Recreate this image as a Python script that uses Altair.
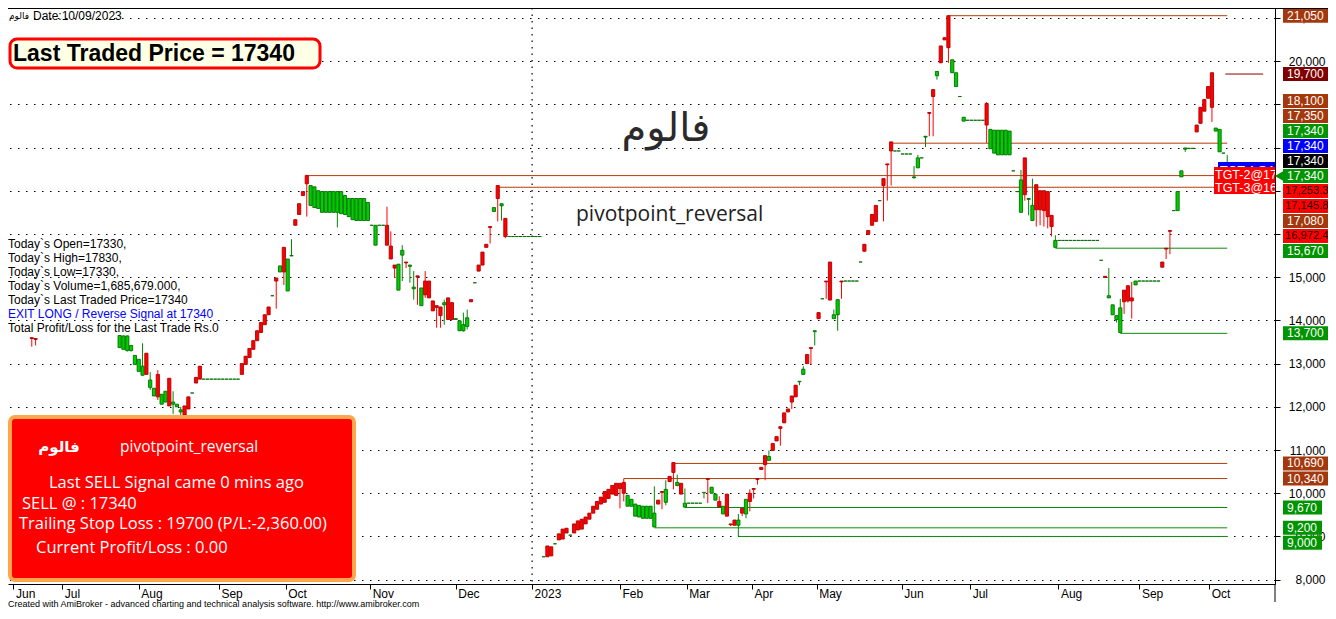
import altair as alt
import pandas as pd
import numpy as np

# ---------------- data ----------------
# candles: (bar slot, open, high, low, close); colour follows close<open -> red
candles_2022 = [
    (7, 13600, 13600, 13390, 13580), (8, 13580, 13580, 13420, 13560),
    (30, 13370, 13650, 13370, 13650), (31, 13330, 13650, 13330, 13640),
    (32, 13300, 13650, 13280, 13640), (33, 13300, 13420, 13280, 13420),
    (34, 12980, 13190, 12980, 13190), (35, 12820, 13100, 12820, 13100),
    (36, 12730, 13470, 12730, 12940), (37, 13240, 13240, 12750, 12750),
    (38, 12450, 12800, 12390, 12620), (39, 12250, 12430, 12250, 12430),
    (40, 12750, 12850, 12160, 12230), (41, 12060, 12290, 12060, 12290),
    (42, 12110, 12360, 12110, 12360), (43, 12660, 12660, 12020, 12020),
    (44, 12060, 12360, 11830, 12110), (45, 12000, 12060, 12000, 12060),
    (46, 11880, 12000, 11810, 11930), (47, 12020, 12020, 11810, 11810),
    (48, 12230, 12230, 11950, 11950), (49, 12320, 12320, 12320, 12320),
    (50, 12680, 12680, 12550, 12550), (51, 12940, 12940, 12640, 12640),
    (52, 12640, 12640, 12640, 12640), (53, 12640, 12640, 12640, 12640),
    (54, 12640, 12640, 12640, 12640), (55, 12640, 12640, 12640, 12640),
    (56, 12640, 12640, 12640, 12640), (57, 12640, 12640, 12640, 12640),
    (58, 12640, 12640, 12640, 12640), (59, 12640, 12640, 12640, 12640),
    (60, 12640, 12640, 12640, 12640), (61, 12640, 12640, 12640, 12640),
    (62, 13000, 13000, 12750, 12750), (63, 13170, 13170, 12980, 12980),
    (64, 13350, 13350, 13140, 13140), (65, 13530, 13530, 13330, 13330),
    (66, 13760, 13760, 13530, 13530), (67, 13950, 13950, 13720, 13720),
    (68, 14130, 14130, 13900, 13900), (69, 14310, 14310, 14130, 14130),
    (70, 14570, 14570, 14570, 14570), (71, 14980, 14980, 14270, 14910),
    (72, 15120, 15260, 15120, 15260), (73, 15690, 15690, 14820, 15120),
    (74, 14680, 15420, 14680, 15420), (75, 15490, 15880, 15490, 15500),
    (76, 16330, 16330, 16200, 16200), (77, 16700, 16700, 16450, 16450),
    (78, 16980, 16980, 16890, 16890), (79, 17350, 17370, 16400, 17160),
    (80, 16660, 17120, 16660, 17120), (81, 16610, 17090, 16610, 17090),
    (82, 16590, 17000, 16590, 17000), (83, 16500, 16980, 16500, 16980),
    (84, 16500, 16980, 16500, 16980), (85, 16500, 16980, 16500, 16980),
    (86, 16500, 16980, 16500, 16980), (87, 16500, 16980, 16150, 16980),
    (88, 16470, 16980, 16470, 16980), (89, 16450, 16890, 16450, 16890),
    (90, 16400, 16820, 16400, 16820), (91, 16330, 16820, 16330, 16820),
    (92, 16310, 16820, 16310, 16820), (93, 16310, 16820, 16310, 16820),
    (94, 16310, 16820, 16310, 16820), (95, 16310, 16730, 16310, 16730),
    (96, 16200, 16200, 16200, 16200), (97, 15740, 16200, 15740, 16200),
    (98, 16200, 16200, 16200, 16200), (99, 16200, 16200, 16200, 16200),
    (100, 16200, 16630, 15740, 15740), (101, 15720, 16060, 15420, 15420),
    (102, 15280, 15280, 14980, 15210), (103, 14700, 15300, 14700, 15300),
    (104, 15510, 15740, 14910, 15620), (105, 15350, 15350, 15210, 15330),
    (106, 15250, 15280, 14870, 15280), (107, 14730, 15140, 14480, 14770),
    (108, 15030, 15030, 14360, 15000), (109, 14340, 14750, 14340, 14750),
    (110, 14910, 15140, 14520, 14590), (111, 14910, 14910, 14520, 14520),
    (112, 14450, 14450, 14220, 14220), (113, 14340, 14340, 13830, 14300),
    (114, 14310, 14310, 13830, 14110), (115, 14360, 14480, 13900, 14410),
    (116, 14520, 14520, 14020, 14020), (117, 14410, 14410, 14020, 14020),
    (118, 14020, 14040, 14020, 14040), (119, 13760, 13990, 13760, 13990),
    (120, 13760, 14180, 13740, 13900), (121, 13860, 14250, 13790, 14060),
    (122, 14480, 14480, 14430, 14430), (123, 14870, 14870, 14870, 14870),
    (124, 15280, 15280, 15140, 15140), (125, 15580, 15580, 15280, 15280),
    (126, 15760, 15760, 15690, 15690), (127, 16170, 16170, 15780, 16150),
    (128, 16520, 16610, 16520, 16610), (129, 17120, 17120, 16290, 16820),
    (130, 16650, 16700, 16310, 16700), (131, 16360, 16360, 15900, 15940),
    (132, 15940, 15940, 15940, 15940), (133, 15940, 15940, 15940, 15940),
    (134, 15940, 15940, 15940, 15940), (135, 15940, 15940, 15940, 15940),
    (136, 15940, 15940, 15940, 15940), (137, 15940, 15940, 15940, 15940),
    (138, 15940, 15940, 15940, 15940), (139, 15940, 15940, 15940, 15940),
    (140, 15940, 15940, 15940, 15940),
]

candles_2023 = [
    (141, 8530, 8530, 8530, 8530), (142, 8780, 8780, 8530, 8530),
    (143, 8760, 8760, 8550, 8550), (144, 8830, 8830, 8830, 8830),
    (145, 9060, 9060, 8920, 8920), (146, 9170, 9170, 8940, 8940),
    (147, 9190, 9190, 9080, 9080), (148, 9030, 9030, 9030, 9030),
    (149, 9290, 9290, 9080, 9080), (150, 9360, 9360, 9150, 9150),
    (151, 9400, 9400, 9170, 9170), (152, 9450, 9450, 9290, 9290),
    (153, 9540, 9540, 9400, 9400), (154, 9700, 9700, 9540, 9540),
    (155, 9810, 9810, 9630, 9630), (156, 9910, 9910, 9750, 9750),
    (157, 10040, 10040, 9790, 9790), (158, 10090, 10090, 9880, 9880),
    (159, 10180, 10180, 9980, 9980), (160, 10230, 10230, 9950, 9950),
    (161, 10230, 10230, 9650, 10110), (162, 10250, 10340, 9810, 10000),
    (163, 9700, 9950, 9700, 9950), (164, 9700, 9860, 9700, 9860),
    (165, 9470, 9750, 9470, 9750), (166, 9450, 9720, 9450, 9720),
    (167, 9420, 9700, 9420, 9700), (168, 9420, 9700, 9420, 9700),
    (169, 9420, 9700, 9420, 9700), (170, 9220, 10160, 9220, 9540),
    (171, 9840, 9840, 9750, 9750), (172, 10040, 10040, 9630, 10020),
    (173, 9790, 10300, 9720, 10090), (174, 10390, 10390, 10270, 10270),
    (175, 10710, 10710, 10090, 10480), (176, 10180, 10430, 10160, 10250),
    (177, 10230, 10230, 9980, 9980), (178, 9680, 10110, 9680, 9770),
    (179, 9770, 9770, 9770, 9770), (180, 9770, 9770, 9770, 9770),
    (181, 9770, 9770, 9770, 9770), (182, 9770, 9770, 9770, 9770),
    (183, 10010, 10020, 9880, 10020), (184, 10340, 10340, 9770, 10320),
    (185, 10000, 10140, 10000, 10140), (186, 9840, 9980, 9840, 9980),
    (187, 9810, 9930, 9680, 9680), (188, 9520, 9700, 9520, 9700),
    (189, 9980, 9980, 9470, 9470), (190, 9290, 9290, 9240, 9270),
    (191, 9380, 9380, 9260, 9260), (192, 9260, 9520, 9010, 9380),
    (193, 9650, 9650, 9470, 9540), (194, 9520, 9860, 9420, 9860),
    (195, 10000, 10090, 9580, 9810), (196, 10110, 10110, 9880, 10090),
    (197, 10340, 10340, 10200, 10320), (198, 10600, 10600, 10550, 10550),
    (199, 10870, 10870, 10300, 10660), (200, 10760, 10990, 10760, 10850),
    (201, 11150, 11150, 10990, 10990), (202, 11310, 11310, 11210, 11210),
    (203, 11540, 11540, 11100, 11500), (204, 11860, 11860, 11630, 11630),
    (205, 11950, 11950, 11880, 11880), (206, 12250, 12250, 11950, 12110),
    (207, 12500, 12500, 12230, 12230), (208, 12580, 12590, 12500, 12590),
    (209, 12750, 12940, 12750, 12870), (210, 13210, 13210, 13000, 13000),
    (211, 13370, 13370, 12980, 13350), (212, 13740, 13760, 13420, 13760),
    (213, 14180, 14180, 14040, 14040), (214, 14500, 14500, 14500, 14500),
    (215, 14910, 14910, 14500, 14890), (216, 15350, 15350, 14470, 14470),
    (217, 14040, 14250, 14040, 14130), (218, 14130, 14480, 13760, 14480),
    (219, 14910, 14910, 14500, 14890), (220, 14910, 14910, 14910, 14910),
    (221, 14910, 14910, 14910, 14910), (222, 14910, 14910, 14910, 14910),
    (223, 14910, 14910, 14910, 14910), (224, 15350, 15350, 15350, 15350),
    (225, 15760, 15760, 15600, 15600), (226, 16080, 16080, 15990, 15990),
    (227, 16450, 16450, 16200, 16200), (228, 16660, 16660, 16290, 16290),
    (229, 16770, 16770, 16770, 16770), (230, 17280, 17280, 16290, 17120),
    (231, 17620, 17620, 16770, 17600), (232, 18130, 18130, 17120, 17920),
    (233, 17920, 17920, 17920, 17920), (234, 17920, 17920, 17920, 17920),
    (235, 17850, 17850, 17850, 17850), (236, 17850, 17850, 17850, 17850),
    (237, 17850, 17850, 17850, 17850), (238, 17300, 17570, 17280, 17320),
    (239, 17530, 17830, 17530, 17760), (240, 17760, 17760, 17760, 17760),
    (241, 18240, 18260, 18010, 18260), (242, 18810, 18810, 18260, 18790),
    (243, 19340, 19340, 18260, 19180), (244, 19660, 19760, 19570, 19760),
    (245, 20350, 20350, 19960, 19960), (246, 20540, 20540, 20490, 20490),
    (247, 21050, 21050, 19960, 20310), (248, 19730, 20030, 19730, 20030),
    (249, 19410, 19730, 19410, 19730), (250, 19180, 19180, 19180, 19180),
    (251, 18610, 18700, 18610, 18700), (252, 18630, 18630, 18630, 18630),
    (253, 18630, 18630, 18630, 18630), (254, 18630, 18630, 18630, 18630),
    (255, 18630, 18630, 18630, 18630), (256, 18630, 18630, 18630, 18630),
    (257, 19020, 19050, 18100, 18520), (258, 17970, 18420, 17970, 18420),
    (259, 17870, 18400, 17870, 18400), (260, 17830, 18400, 17830, 18400),
    (261, 17830, 18400, 17830, 18400), (262, 17830, 18400, 17830, 18400),
    (263, 17830, 18380, 17830, 18380), (264, 17460, 17460, 17460, 17460),
    (265, 16980, 16980, 16980, 16980), (266, 16500, 17480, 16500, 17250),
    (267, 17760, 17760, 16770, 16910), (268, 16800, 16820, 16430, 16820),
    (269, 16310, 17280, 16310, 16660), (270, 17140, 17140, 16170, 16560),
    (271, 17000, 17000, 16200, 16560), (272, 17000, 17000, 16170, 16540),
    (273, 16980, 16980, 16130, 16400), (274, 16430, 16430, 15940, 16170),
    (275, 15690, 15970, 15690, 15850), (276, 15850, 15850, 15850, 15850),
    (277, 15850, 15850, 15850, 15850), (278, 15850, 15850, 15850, 15850),
    (279, 15850, 15850, 15850, 15850), (280, 15850, 15850, 15850, 15850),
    (281, 15850, 15850, 15850, 15850), (282, 15850, 15850, 15850, 15850),
    (283, 15850, 15850, 15850, 15850), (284, 15850, 15850, 15850, 15850),
    (285, 15850, 15850, 15850, 15850), (286, 15850, 15850, 15850, 15850),
    (287, 15390, 15390, 15390, 15390), (288, 15020, 15020, 14990, 14990),
    (289, 14520, 15210, 14520, 14570), (290, 14130, 14360, 14130, 14360),
    (291, 14020, 14110, 13950, 14110), (292, 13720, 14500, 13720, 14290),
    (293, 14700, 14700, 14150, 14430), (294, 14800, 14820, 14410, 14450),
    (295, 14520, 14890, 14040, 14450), (296, 14820, 14910, 14820, 14910),
    (297, 14910, 14910, 14910, 14910), (298, 14910, 14910, 14910, 14910),
    (299, 14910, 14910, 14910, 14910), (300, 14910, 14910, 14910, 14910),
    (301, 14910, 14910, 14910, 14910), (302, 14910, 14910, 14910, 14910),
    (303, 15350, 15350, 15230, 15230), (304, 15670, 15670, 15420, 15650),
    (305, 16080, 16080, 15530, 16060), (306, 16540, 16540, 16540, 16540),
    (307, 16540, 16980, 16540, 16980), (308, 17320, 17460, 17320, 17460),
    (309, 17960, 17990, 17900, 17990), (310, 17980, 17980, 17980, 17980),
    (311, 17980, 17980, 17980, 17980), (312, 18520, 18520, 18360, 18360),
    (313, 18930, 18930, 18560, 18560), (314, 19110, 19110, 18840, 18840),
    (315, 19410, 19410, 19140, 19140), (316, 19730, 19730, 18590, 18930),
    (317, 18380, 18450, 18380, 18450), (318, 17900, 18420, 17900, 18420),
    (319, 17870, 17870, 17870, 17870), (320, 17330, 17830, 17330, 17340),
]

# horizontal levels (value, first bar slot) -- resistance / support
resistance_values = [21050, 18100, 17350, 17080, 10690, 10340]
resistance_starts = [247, 232, 79, 129, 175, 162]
support_values = [15670, 13700, 9670, 9200, 9000]
support_starts = [275, 292, 178, 170, 192]
levels_end = 320
trailing_stop = 19700
trailing_span = [319.5, 329.4]

# right-hand value tags (top to bottom); anchor = last price tag
tag_texts = ["21,050", "19,700", "18,100", "17,350", "17,340", "17,340", "17,340", "17,340",
             "17,253.3", "17,145.8", "17,080", "16,972.4", "15,670", "13,700",
             "10,690", "10,340", "9,670", "9,200", "9,000"]
tag_values = [21050, 19700, 18100, 17350, 17340, 17340, 17340, 17340,
              17253.3, 17145.8, 17080, 16972.4, 15670, 13700,
              10690, 10340, 9670, 9200, 9000]
tag_kinds = ["res", "stop", "res", "res", "up", "blue", "black", "last",
             "tgt", "tgt", "res", "tgt", "up", "up", "res", "res", "up", "up", "up"]
tag_anchor = 7

month_names = ["Jun", "Jul", "Aug", "Sep", "Oct", "Nov", "Dec", "2023", "Feb", "Mar",
               "Apr", "May", "Jun", "Jul", "Aug", "Sep", "Oct"]
month_slots = [2.2, 15, 35, 56, 73.5, 95.6, 118, 138, 161, 178.5,
               195.6, 212.5, 234.8, 252.7, 275.8, 297, 315.3]
year_slot = 138
price_ticks = [8000, 9000, 10000, 11000, 12000, 13000, 14000, 15000,
               16000, 17000, 18000, 19000, 20000, 21000]
covered_ticks = [16000, 17000, 18000, 19000]   # labels hidden under the value tags

info_lines = ["Today`s Open=17330,", "Today`s High=17830,", "Today`s Low=17330,",
              "Today`s Volume=1,685,679.000,", "Today`s Last Traded Price=17340"]

# ---------------- styling ----------------
ARIAL = "Liberation Sans, Arial, sans-serif"
SANS = "Open Sans, Noto Sans, DejaVu Sans, sans-serif"
ARABIC = "DejaVu Sans, Noto Sans, sans-serif"
W, H = 1267, 576
RIGHT = 53
BROWN_LINE, BROWN_BOX = "#B43C0A", "#A3380C"
GREEN_LINE, GREEN_BOX = "#0A8C0A", "#009400"

XSCALE = alt.Scale(domain=[2.08, 331.2], nice=False, zero=False)
YSCALE = alt.Scale(domain=[7900, 21228], nice=False, zero=False)

label_expr = ("[" + ",".join(f"'{n}'" for n in month_names) + "][indexof(["
              + ",".join(str(s) for s in month_slots) + "], datum.value)]")
ylabel_expr = ("indexof([" + ",".join(str(v) for v in covered_ticks)
               + "], datum.value) >= 0 ? '' : format(datum.value, ',d')")
x_axis = alt.Axis(orient="bottom", values=month_slots, labelExpr=label_expr, grid=False,
                  domainColor="#000", domainWidth=1, tickColor="#000", tickSize=5,
                  labelAlign="left", labelOffset=2, labelPadding=-1, labelBaseline="top",
                  labelFont=ARIAL, labelFontSize=12, labelColor="#000", title=None,
                  labelOverlap=False, labelFlush=False, zindex=0)
y_axis = alt.Axis(orient="right", values=price_ticks, labelExpr=ylabel_expr, grid=True,
                  gridDash=[1.5, 6.5], gridColor="#000", gridWidth=1.2, gridOpacity=1,
                  domainColor="#000", domainWidth=1, tickColor="#000", tickSize=5,
                  labelAlign="right", labelPadding=45, labelBaseline="middle",
                  labelFont=ARIAL, labelFontSize=12, labelColor="#000", title=None,
                  labelOverlap=False, labelFlush=False, zindex=0)


def X(field):
    return alt.X(field, scale=XSCALE, axis=x_axis)


def Y(field):
    return alt.Y(field, scale=YSCALE, axis=y_axis)


# ---------------- candles ----------------
df = pd.DataFrame(candles_2022 + candles_2023, columns=["slot", "open", "high", "low", "close"])
df["dir"] = np.where(df["close"] < df["open"], "down", "up")
wick_scale = alt.Scale(domain=["up", "down"], range=["#008800", "#FF0000"])
fill_scale = alt.Scale(domain=["up", "down"], range=["#00CC00", "#FF0000"])
edge_scale = alt.Scale(domain=["up", "down"], range=["#007000", "#B00000"])

wicks = alt.Chart(df).mark_rule(strokeWidth=1).encode(
    x=X("slot:Q"), y=Y("low:Q"), y2="high:Q",
    color=alt.Color("dir:N", scale=wick_scale, legend=None),
)
bodies = alt.Chart(df).mark_bar(size=3.2, strokeWidth=0.9).encode(
    x=X("slot:Q"), y=Y("open:Q"), y2="close:Q",
    fill=alt.Fill("dir:N", scale=fill_scale, legend=None),
    stroke=alt.Stroke("dir:N", scale=edge_scale, legend=None),
)

# ---------------- level lines ----------------
lv = pd.DataFrame({
    "value": resistance_values + support_values,
    "start": resistance_starts + support_starts,
    "col": [BROWN_LINE] * len(resistance_values) + [GREEN_LINE] * len(support_values),
})
lv["end"] = levels_end
levels = alt.Chart(lv).mark_rule(strokeWidth=1).encode(
    x=X("start:Q"), x2="end:Q", y=Y("value:Q"),
    color=alt.Color("col:N", scale=None),
)
stop_df = pd.DataFrame({"value": [trailing_stop], "start": [trailing_span[0]], "end": [trailing_span[1]]})
stop_line = alt.Chart(stop_df).mark_rule(strokeWidth=1, color="#8B0000").encode(
    x=X("start:Q"), x2="end:Q", y=Y("value:Q"),
)
year_line = alt.Chart(pd.DataFrame({"slot": [year_slot]})).mark_rule(
    strokeDash=[1.5, 5], color="#000", strokeWidth=1.2).encode(x=X("slot:Q"))

# ---------------- right-hand tags (stacked like AmiBroker) ----------------
GAP = 347      # one tag height in price units
HALF = 162
disp = list(tag_values)
for i in range(tag_anchor - 1, -1, -1):
    disp[i] = max(tag_values[i], disp[i + 1] + GAP)
for i in range(tag_anchor + 1, len(tag_values)):
    disp[i] = min(tag_values[i], disp[i - 1] - GAP)
kind_fill = {"res": BROWN_BOX, "stop": "#800000", "up": GREEN_BOX, "blue": "#0000FF",
             "black": "#000000", "last": GREEN_BOX, "tgt": "#FF0000"}
kind_text = {"res": "#FFFFFF", "stop": "#FFFFFF", "up": "#FFFFFF", "blue": "#FFFFFF",
             "black": "#FFFFFF", "last": "#FFFFFF", "tgt": "#200000"}
tags = pd.DataFrame({"text": tag_texts, "disp": disp,
                     "fill": [kind_fill[k] for k in tag_kinds],
                     "tcol": [kind_text[k] for k in tag_kinds]})
tags["top"] = tags["disp"] + HALF
tags["bot"] = tags["disp"] - HALF
tags["w"] = [round(sum(3.33 if ch in ",." else 6.67 for ch in t) + 9) for t in tag_texts]
tags["long"] = [len(t) > 6 for t in tag_texts]

TAG_X = W + 8
tag_layers = []
for w in sorted(tags["w"].unique()):
    sub = tags[tags["w"] == w]
    tag_layers.append(alt.Chart(sub).mark_rect().encode(
        x=alt.value(TAG_X), x2=alt.value(TAG_X + int(w)),
        y=Y("top:Q"), y2="bot:Q",
        fill=alt.Fill("fill:N", scale=None)))
tag_text_short = alt.Chart(tags[~tags["long"]]).mark_text(
    align="left", baseline="middle", font=ARIAL, fontSize=12).encode(
    x=alt.value(TAG_X + 4), y=Y("disp:Q"),
    text="text:N", color=alt.Color("tcol:N", scale=None))
tag_text_long = alt.Chart(tags[tags["long"]]).mark_text(
    align="left", baseline="middle", font=ARIAL, fontSize=11.2).encode(
    x=alt.value(TAG_X + 2), y=Y("disp:Q"),
    text="text:N", color=alt.Color("tcol:N", scale=None))
arrow = alt.Chart(tags.iloc[[tag_anchor]]).mark_point(
    shape="triangle-left", filled=True, size=90, color=GREEN_BOX, opacity=1).encode(
    x=alt.value(TAG_X - 4), y=Y("disp:Q"))


# ---------------- annotations ----------------
def txt(s, x, y, size=12, color="#000", font=ARIAL, weight="normal", align="left",
        baseline="middle", clip=False):
    return alt.Chart(pd.DataFrame({"t": [s]})).mark_text(
        align=align, baseline=baseline, fontSize=size, font=font, fontWeight=weight,
        color=color, clip=clip).encode(x=alt.value(x), y=alt.value(y), text="t:N")


def box(x1, x2, y1, y2, fill, stroke=None, sw=0, r=0):
    kw = dict(fill=fill, cornerRadius=r)
    if stroke is not None:
        kw.update(stroke=stroke, strokeWidth=sw)
    return alt.Chart(pd.DataFrame({"a": [0]})).mark_rect(**kw).encode(
        x=alt.value(x1), x2=alt.value(x2), y=alt.value(y1), y2=alt.value(y2))


def rule(x1, x2, y1, y2, color="#000", sw=1):
    return alt.Chart(pd.DataFrame({"a": [0]})).mark_rule(color=color, strokeWidth=sw).encode(
        x=alt.value(x1), x2=alt.value(x2), y=alt.value(y1), y2=alt.value(y2))


notes = [
    rule(0, W + RIGHT, 0.5, 0.5),
    rule(W, W, H, H + 18),
    txt("فالوم", 1, 8, size=9, font=ARABIC, align="left"),
    txt("Date:10/09/2023", 25, 8, size=12),
    box(2, 312, 31, 60, "#FFFFE6", stroke="#FF0000", sw=3, r=7),
    txt("Last Traded Price = 17340", 5, 46, size=23, weight="bold"),
    txt("فالوم", 658, 121, size=40, color="#2a2a2a", font=ARABIC, align="center"),
    txt("pivotpoint_reversal", 568, 207, size=21, color="#222222", font=SANS),
]
for k, line in enumerate(info_lines):
    notes.append(txt(line, 0, 236 + 13.9 * k, size=12))
notes += [
    txt("EXIT LONG / Reverse Signal at 17340", 0, 306, size=12, color="#0000FF"),
    txt("Total Profit/Loss for the Last Trade Rs.0", 0, 320, size=12),
    # target boxes (clipped by plot edge)
    box(1210, W, 154, 162, "#0000FF"),
    txt("TGT-1@17253.3", 1212, 163, size=12.5, color="#FFFFFF", clip=True),
    box(1206, W, 159, 186, "#FF0000"),
    txt("TGT-2@17145.8", 1207, 167, size=12.5, color="#FFFFFF", clip=True),
    txt("TGT-3@16972.4", 1207, 180, size=12.5, color="#FFFFFF", clip=True),
    # signal panel
    box(2, 346, 409, 572, "#FF0000", stroke="#FFA64D", sw=4, r=5),
    txt("فالوم", 51, 439, size=15, color="#FFFFFF", font=ARABIC, weight="bold", align="center"),
    txt("pivotpoint_reversal", 112, 439, size=15.5, color="#FFFFFF", font=SANS),
    txt("Last SELL Signal came 0 mins ago", 41, 475, size=16.5, color="#FFFFFF", font=SANS),
    txt("SELL @ : 17340", 14, 496, size=16.5, color="#FFFFFF", font=SANS),
    txt("Trailing Stop Loss : 19700 (P/L:-2,360.00)", 11, 516, size=16.5, color="#FFFFFF", font=SANS),
    txt("Current Profit/Loss : 0.00", 28, 540, size=16.5, color="#FFFFFF", font=SANS),
    txt("Created with AmiBroker - advanced charting and technical analysis software. http://www.amibroker.com",
        0, 599, size=9, baseline="alphabetic"),
]

chart = alt.layer(
    wicks, year_line, levels, stop_line, bodies, *tag_layers, tag_text_short, tag_text_long,
    arrow, *notes
).properties(
    width=W, height=H,
    autosize=alt.AutoSizeParams(type="none"),
    padding={"left": 0, "top": 0, "right": RIGHT, "bottom": 26},
    background="#FFFFFF",
).configure_view(stroke=None)

chart.save("out.html", embed_options={"renderer": "svg", "actions": False})
